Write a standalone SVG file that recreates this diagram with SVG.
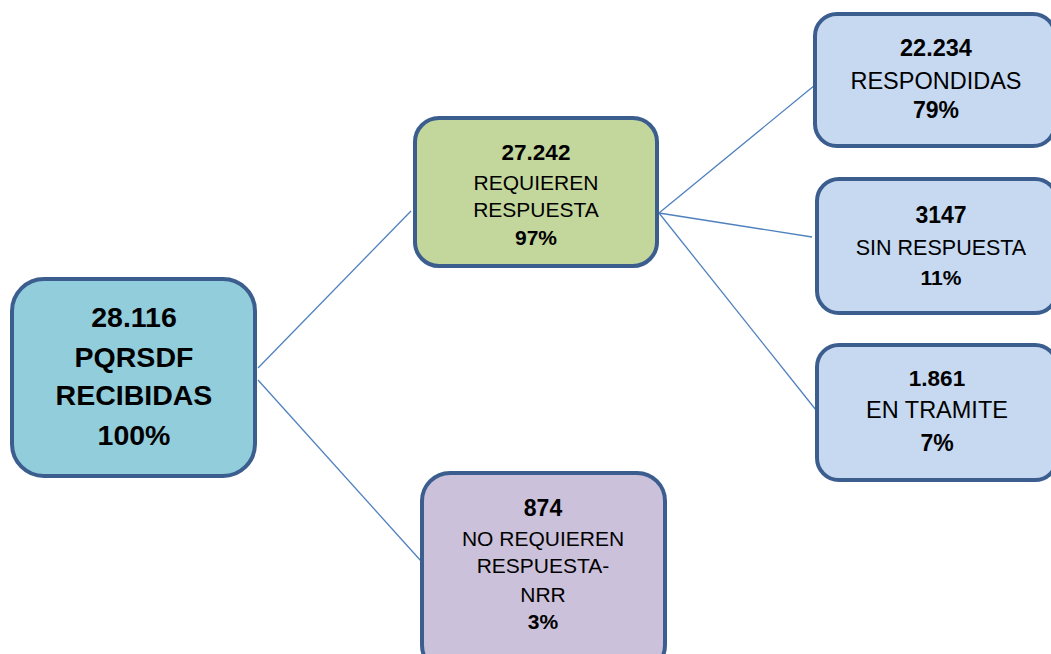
<svg xmlns="http://www.w3.org/2000/svg" width="1051" height="654" viewBox="0 0 1051 654">
<style>
.box{stroke:#3B5E8F;stroke-width:4}
.t{font-family:"Liberation Sans",Arial,sans-serif;fill:#000;text-anchor:middle}
.b{font-weight:bold}
.conn line{stroke:#4F81BD;stroke-width:1.3}
</style>
<rect width="1051" height="654" fill="#fff"/>
<g id="connectors" class="conn">
<line x1="258" y1="368" x2="411" y2="211"/>
<line x1="258" y1="380" x2="421" y2="561"/>
<line x1="659" y1="213" x2="815" y2="85"/>
<line x1="659" y1="213" x2="812" y2="237"/>
<line x1="659" y1="213" x2="816" y2="410"/>
</g>
<g id="root">
<rect class="box" x="12" y="279" width="243" height="197" rx="32" fill="#92CDDC"/>
<text class="t b" x="134" y="327" font-size="28.5">28.116</text>
<text class="t b" x="134" y="367" font-size="28.5">PQRSDF</text>
<text class="t b" x="134" y="405" font-size="28.5">RECIBIDAS</text>
<text class="t b" x="134" y="445" font-size="28.5">100%</text>
</g>
<g id="requieren">
<rect class="box" x="415" y="118" width="242" height="148" rx="24" fill="#C3D69B"/>
<text class="t b" x="536" y="160" font-size="22.5">27.242</text>
<text class="t" x="536" y="190" font-size="21">REQUIEREN</text>
<text class="t" x="536" y="217" font-size="21">RESPUESTA</text>
<text class="t b" x="536" y="245" font-size="21">97%</text>
</g>
<g id="respondidas">
<rect class="box" x="815" y="14" width="240" height="132" rx="22" fill="#C6D9F1"/>
<text class="t b" x="936" y="56" font-size="23.5">22.234</text>
<text class="t" x="936" y="89" font-size="23.5">RESPONDIDAS</text>
<text class="t b" x="936" y="118" font-size="23">79%</text>
</g>
<g id="sinrespuesta">
<rect class="box" x="817" y="179" width="240" height="134" rx="22" fill="#C6D9F1"/>
<text class="t b" x="941" y="223" font-size="23">3147</text>
<text class="t" x="941" y="255" font-size="21.5">SIN RESPUESTA</text>
<text class="t b" x="941" y="285" font-size="21">11%</text>
</g>
<g id="entramite">
<rect class="box" x="817" y="345" width="240" height="135" rx="22" fill="#C6D9F1"/>
<text class="t b" x="937" y="386" font-size="22.5">1.861</text>
<text class="t" x="937" y="418" font-size="23.5">EN TRAMITE</text>
<text class="t b" x="937" y="451" font-size="23">7%</text>
</g>
<g id="norequieren">
<rect class="box" x="422" y="473" width="243" height="200" rx="28" fill="#CCC1DA"/>
<text class="t b" x="543" y="516" font-size="23">874</text>
<text class="t" x="543" y="546" font-size="21">NO REQUIEREN</text>
<text class="t" x="543" y="573" font-size="21">RESPUESTA-</text>
<text class="t" x="543" y="602" font-size="21">NRR</text>
<text class="t b" x="543" y="629" font-size="21">3%</text>
</g>
</svg>
